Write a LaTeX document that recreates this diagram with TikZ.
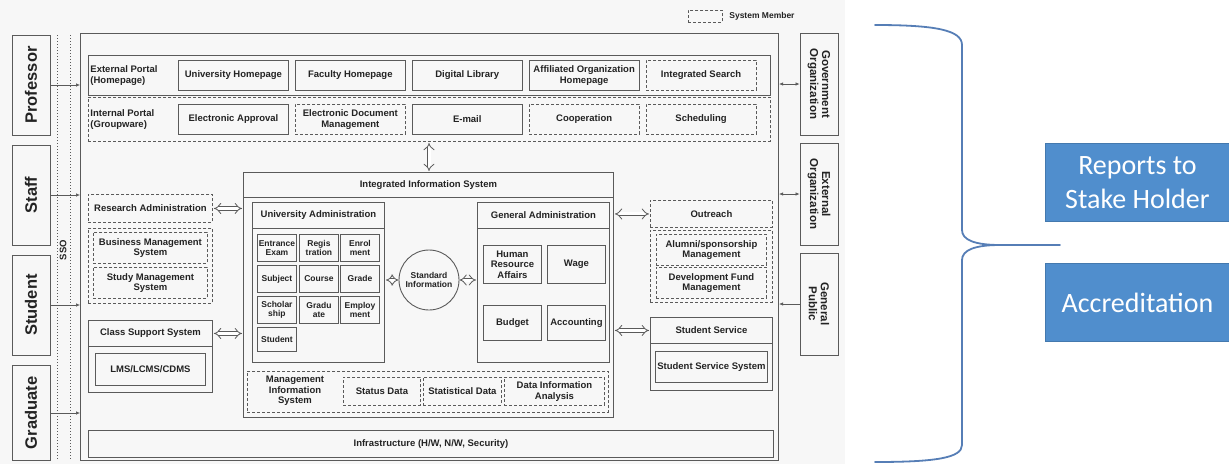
\documentclass[tikz,border=0pt]{standalone}
\usepackage{fontspec}
\usetikzlibrary{positioning,arrows.meta}
\newfontfamily\diagfam{Liberation Sans}
\newfontfamily\calfam{Carlito}
\definecolor{linegray}{RGB}{90,90,90}
\definecolor{textgray}{RGB}{35,35,35}
\definecolor{blockblue}{RGB}{80,142,205}
\definecolor{braceblue}{RGB}{86,126,182}
\newcommand{\boxfont}{\diagfam\bfseries\fontsize{9.5}{10.5}\selectfont}
\newcommand{\cellfont}{\diagfam\bfseries\fontsize{8.5}{9}\selectfont}
\newcommand{\actorfont}{\diagfam\bfseries\fontsize{16.5}{17}\selectfont}
\newcommand{\orgfont}{\diagfam\bfseries\fontsize{11.5}{12}\selectfont}
\newcommand{\blockfont}{\calfam\fontsize{28}{34}\selectfont}
\tikzset{wh/.style 2 args={minimum width=#1, minimum height=#2}}

\begin{document}
\begin{tikzpicture}[x=1pt, y=-1pt,
                    line width=0.9pt,
                    ]
    \tikzstyle{box}=[draw=linegray, text=textgray, inner sep=1pt, align=center, anchor=north west, font=\boxfont]
    \tikzstyle{member}=[box, densely dashed]
    \tikzstyle{plain}=[box, draw=none]
    \tikzstyle{cell}=[box, font=\cellfont, inner sep=0.5pt, wh={39}{27}]
    \tikzstyle{actor}=[draw=linegray, text=textgray, font=\actorfont, rotate=90, wh={100}{38}]
    \tikzstyle{org}=[draw=linegray, text=textgray, font=\orgfont, align=center, rotate=-90, wh={102}{38}]
    \tikzstyle{block}=[fill=blockblue, draw=blockblue!85!black, text=white, font=\blockfont, align=center, anchor=north west, wh={184}{78}]
    \tikzstyle{hollow}=[draw=linegray, line width=0.8pt, double=white, double distance=3pt, {Implies}-{Implies}, shorten >=1pt, shorten <=1pt]
    \tikzstyle{conn}=[draw=linegray, line width=0.6pt, -{Latex[length=4pt,width=3.5pt]}]
    \tikzstyle{both}=[conn, {Latex[length=4pt,width=3.5pt]}-{Latex[length=4pt,width=3.5pt]}]
    \tikzstyle{sso}=[draw=linegray, line width=1pt, dotted]
    \tikzstyle{brace}=[draw=braceblue, line width=1.8pt, line cap=round]

    \useasboundingbox (0,0) rectangle (1229,464);
    \fill[black!3] (0,0) rectangle (845,464);

    \node[member, wh={34}{12}] (legend) at (688,10) {};
    \node[plain, anchor=west, font=\cellfont, right=5pt of legend] (legendL) {System Member};

    \node[box, line width=1.1pt, wh={698}{427}] (frame) at (80,33) {};

    \node[actor] (prof) at (31,85) {Professor};
    \node[actor] (staff) at (31,195) {Staff};
    \node[actor] (student) at (31,305) {Student};
    \node[actor, wh={95}{38}] (grad) at (31,413) {Graduate};

    \draw[sso] (57,35) -- (57,460);
    \draw[sso] (70,35) -- (70,460);
    \node[plain, rotate=90, anchor=center, fill=black!3, inner sep=0.5pt] (ssoL) at (63,250) {SSO};

    \draw[conn] (prof.south) -- (prof.south -| frame.west);
    \draw[conn] (staff.south) -- (staff.south -| frame.west);
    \draw[conn] (student.south) -- (student.south -| frame.west);
    \draw[conn] (grad.south) -- (grad.south -| frame.west);

    \node[org] (gov) at (819,84) {Government\\Organization};
    \node[org] (ext) at (819,194) {External\\Organization};
    \node[org] (pub) at (819,304) {General\\Public};

    \draw[both] (gov.south) -- (gov.south -| frame.east);
    \draw[both] (ext.south) -- (ext.south -| frame.east);
    \draw[conn] (pub.south) -- (pub.south -| frame.east);

    \node[box, wh={682}{40}] (extp) at (88,55) {};
    \node[plain, anchor=west, align=left] (extpL) at ([xshift=1pt]extp.west) {External Portal\\(Homepage)};
    \node[box, wh={110}{30}] (uhome) at (178,60) {University Homepage};
    \node[box, wh={110}{30}, right=6pt of uhome] (fhome) {Faculty Homepage};
    \node[box, wh={110}{30}, right=6pt of fhome] (dlib) {Digital Library};
    \node[box, wh={110}{30}, right=6pt of dlib] (aorg) {Affiliated Organization\\Homepage};
    \node[member, wh={110}{30}, right=6pt of aorg] (isearch) {Integrated Search};

    \node[member, wh={682}{44}] (intp) at (88,97) {};
    \node[plain, anchor=west, align=left] (intpL) at ([xshift=1pt]intp.west) {Internal Portal\\(Groupware)};
    \node[box, wh={110}{30}] (eappr) at (178,104) {Electronic Approval};
    \node[member, wh={110}{30}, right=6pt of eappr] (edoc) {Electronic Document\\Management};
    \node[box, wh={110}{30}, right=6pt of edoc] (email) {E-mail};
    \node[member, wh={110}{30}, right=6pt of email] (coop) {Cooperation};
    \node[member, wh={110}{30}, right=6pt of coop] (sched) {Scheduling};

    \node[box, wh={370}{245}] (iis) at (243,172) {};
    \node[box, wh={370}{25}] (iisT) at (243,172) {Integrated Information System};

    \node[box, wh={132}{160}] (uadm) at (252,202) {};
    \node[box, wh={132}{26}] (uadmT) at (252,202) {University Administration};
    \node[cell] (exam) at (257,234) {Entrance\\Exam};
    \node[cell] (regis) at (299,234) {Regis\\tration};
    \node[cell] (enrol) at (340,234) {Enrol\\ment};
    \node[cell] (subj) at (257,265) {Subject};
    \node[cell] (course) at (299,265) {Course};
    \node[cell] (grade) at (340,265) {Grade};
    \node[cell] (schol) at (257,296) {Scholar\\ship};
    \node[cell] (gradu) at (299,296) {Gradu\\ate};
    \node[cell] (employ) at (340,296) {Employ\\ment};
    \node[cell, wh={39}{24}] (stud) at (257,327) {Student};

    \node[circle, draw=linegray, text=textgray, font=\cellfont, align=center, minimum size=60pt, inner sep=0pt] (sinfo) at (429,280) {Standard\\Information};

    \node[box, wh={132}{160}] (gadm) at (477,202) {};
    \node[box, wh={132}{26}] (gadmT) at (477,202) {General Administration};
    \node[box, wh={58}{38}] (hr) at (483,245) {Human\\Resource\\Affairs};
    \node[box, wh={58}{38}] (wage) at (547,245) {Wage};
    \node[box, wh={58}{35}] (budget) at (483,305) {Budget};
    \node[box, wh={58}{35}] (acct) at (547,305) {Accounting};

    \node[member, wh={361}{41}] (mis) at (247,371) {};
    \node[plain, anchor=center] (misL) at (295,391) {Management\\Information\\System};
    \node[member, wh={77}{28}] (status) at (343,377) {Status Data};
    \node[member, wh={78}{28}] (stat) at (423,377) {Statistical Data};
    \node[member, wh={100}{28}] (dia) at (504,377) {Data Information\\Analysis};

    \node[member, wh={124}{28}] (resadm) at (88,194) {Research Administration};
    \node[member, wh={124}{75}] (mgmt) at (88,228) {};
    \node[member, wh={114}{31}] (bms) at (93,232) {Business Management\\System};
    \node[member, wh={114}{31}] (sms) at (93,267) {Study Management\\System};

    \node[box, wh={124}{72}] (css) at (88,320) {};
    \node[box, wh={124}{26}] (cssT) at (88,320) {Class Support System};
    \node[box, wh={110}{32}] (lms) at (95,353) {LMS/LCMS/CDMS};

    \node[member, wh={122}{27}] (outreach) at (650,200) {Outreach};
    \node[member, wh={122}{72}] (fund) at (650,230) {};
    \node[member, wh={110}{31}] (alum) at (656,234) {Alumni/sponsorship\\Management};
    \node[member, wh={110}{31}] (dev) at (656,267) {Development Fund\\Management};

    \node[box, wh={122}{73}] (ssv) at (650,317) {};
    \node[box, wh={122}{26}] (ssvT) at (650,317) {Student Service};
    \node[box, wh={112}{31}] (sss) at (655,351) {Student Service System};

    \node[box, wh={685}{27}] (infra) at (88,430) {Infrastructure (H/W, N/W, Security)};

    \draw[hollow] (intp.south -| sinfo) -- (iisT.north -| sinfo);
    \draw[hollow] (resadm.east) -- (resadm.east -| iis.west);
    \draw[hollow] (cssT.east) -- (cssT.east -| iis.west);
    \draw[hollow] (outreach.west) -- (outreach.west -| iis.east);
    \draw[hollow] (ssvT.west) -- (ssvT.west -| iis.east);
    \draw[hollow, shorten <=0pt] (sinfo.west) -- (sinfo.west -| uadm.east);
    \draw[hollow, shorten <=0pt] (sinfo.east) -- (sinfo.east -| gadm.west);

    \draw[brace] (875,25) .. controls (935,25) and (962,30) .. (962,45) -- (962,230)
        .. controls (962,240) and (975,245) .. (1000,245)
        .. controls (975,245) and (962,250) .. (962,260) -- (962,445)
        .. controls (962,458) and (935,462) .. (875,462);
    \draw[brace] (1000,245) -- (1060,245);

    \node[block] (report) at (1045,143) {Reports to\\Stake Holder};
    \node[block] (accr) at (1045,263) {Accreditation};
\end{tikzpicture}
\end{document}
